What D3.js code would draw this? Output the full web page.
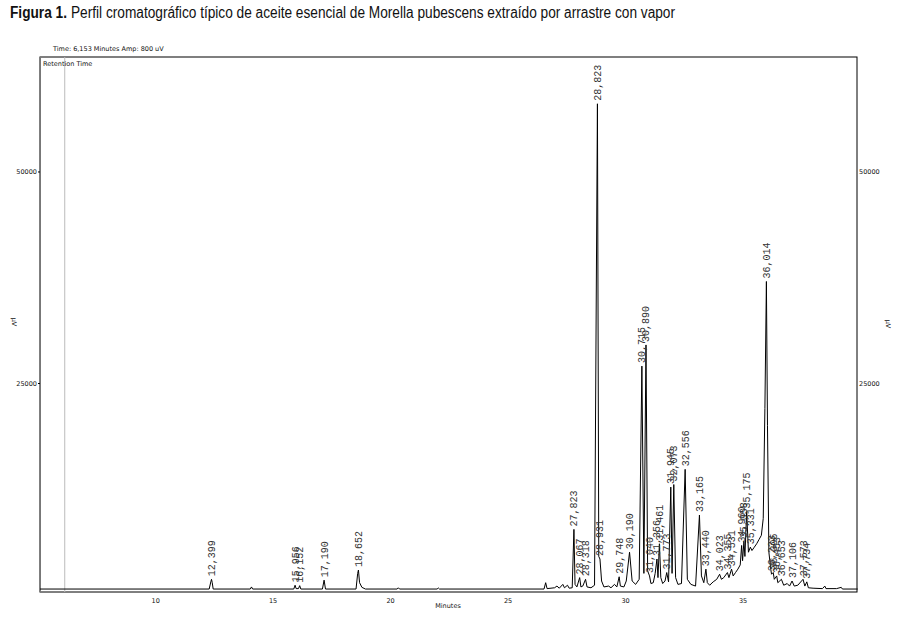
<!DOCTYPE html>
<html>
<head>
<meta charset="utf-8">
<script src="https://cdn.jsdelivr.net/npm/d3@7"></script>
<style>
  body { margin: 0; background: #fff; }
  svg { display: block; }
  .small { font-family: "DejaVu Sans", sans-serif; font-size: 6.5px; fill: #111; }
  .peak { font-family: "Liberation Mono", "DejaVu Sans Mono", monospace; font-size: 10px; fill: #333; }
  .title { font-family: "Liberation Sans Narrow", "Arial Narrow", "Liberation Sans", sans-serif; font-size: 16px; fill: #111; }
</style>
</head>
<body>
<div id="chart"></div>
<script>
// Chromatogram trace: [minutes, µV]
const trace = [
  [5.1, 650], [12.30, 650], [12.37, 1500], [12.399, 1800], [12.43, 1400], [12.47, 650],
  [14.05, 650], [14.1, 900], [14.15, 650],
  [15.90, 650], [15.956, 1100], [16.0, 700], [16.1, 700], [16.152, 1050], [16.2, 650],
  [17.12, 650], [17.19, 1700], [17.25, 650],
  [18.55, 650], [18.62, 2500], [18.652, 2900], [18.70, 1400], [18.80, 850], [18.95, 650],
  [20.3, 650], [20.35, 800], [20.4, 650],
  [22.0, 650], [22.05, 780], [22.1, 650],
  [26.55, 650], [26.62, 1400], [26.68, 700], [27.0, 800], [27.1, 1000], [27.2, 750],
  [27.35, 1200], [27.42, 800], [27.55, 1100], [27.62, 750], [27.75, 800], [27.823, 7700],
  [27.87, 1200], [27.95, 900], [28.067, 2000], [28.12, 900], [28.2, 1000], [28.318, 1800],
  [28.38, 900], [28.55, 800], [28.7, 1100], [28.823, 58000], [28.88, 4500], [28.931, 4200],
  [29.0, 1600], [29.1, 900], [29.3, 1000], [29.4, 800], [29.55, 1200], [29.65, 900],
  [29.748, 2100], [29.8, 1000], [29.95, 900], [30.05, 1600], [30.190, 5000], [30.3, 1600],
  [30.45, 1200], [30.6, 1800], [30.715, 27000], [30.8, 2500], [30.890, 29500], [30.96, 2800],
  [31.040, 2200], [31.1, 1300], [31.2, 1400], [31.28, 2500], [31.356, 4200], [31.4, 2000],
  [31.461, 6000], [31.52, 2000], [31.6, 1300], [31.7, 1600], [31.773, 2600], [31.85, 1500],
  [31.945, 12700], [32.0, 2500], [32.073, 13000], [32.15, 2000], [32.25, 1200], [32.4, 1300],
  [32.556, 14800], [32.65, 1800], [32.8, 1200], [33.0, 1000], [33.165, 9400], [33.25, 2200],
  [33.35, 1400], [33.440, 3000], [33.5, 1400], [33.6, 1100], [33.75, 1500], [33.9, 1800],
  [34.023, 2400], [34.1, 1800], [34.2, 2000], [34.355, 2600], [34.42, 2000], [34.531, 3000],
  [34.6, 2200], [34.7, 2600], [34.8, 3000], [34.9, 3500], [34.960, 5800], [35.0, 4000],
  [35.058, 6300], [35.1, 4500], [35.175, 9800], [35.25, 5000], [35.331, 5600], [35.4, 5200],
  [35.5, 5600], [35.6, 6000], [35.7, 6500], [35.8, 7000], [35.88, 9000], [35.95, 22000],
  [36.014, 37000], [36.06, 20000], [36.12, 5000], [36.2, 3000], [36.233, 2400], [36.305, 2600],
  [36.35, 1800], [36.453, 2200], [36.5, 1400], [36.653, 1800], [36.75, 1100], [36.9, 1300],
  [37.0, 1000], [37.106, 1600], [37.2, 1000], [37.35, 1100], [37.573, 1800], [37.65, 1000],
  [37.734, 1500], [37.8, 800], [38.0, 750], [38.4, 700], [38.5, 1000], [38.55, 700],
  [39.0, 700], [39.2, 850], [39.25, 650], [39.9, 650]
];

// Labelled peaks: retention time and apex height
const peakTimes = [12.399, 15.956, 16.152, 17.190, 18.652, 27.823, 28.067, 28.318, 28.823, 28.931,
  29.748, 30.190, 30.715, 30.890, 31.040, 31.356, 31.461, 31.773, 31.945, 32.073, 32.556,
  33.165, 33.440, 34.023, 34.355, 34.531, 34.960, 35.058, 35.175, 35.331, 36.014, 36.233,
  36.305, 36.453, 36.653, 37.106, 37.573, 37.734];
const peakHeights = [1800, 1100, 1050, 1700, 2900, 7700, 2000, 1800, 58000, 4200,
  2100, 5000, 27000, 29500, 2200, 4200, 6000, 2600, 12700, 13000, 14800,
  9400, 3000, 2400, 2600, 3000, 5800, 6300, 9800, 5600, 37000, 2400,
  2600, 2200, 1800, 1600, 1800, 1500];

const xTicks = [10, 15, 20, 25, 30, 35];
const yTicks = [25000, 50000];

const W = 897, H = 620;
const frame = { left: 40, right: 857, top: 57, bottom: 592 };

const svg = d3.select('#chart').append('svg')
  .attr('width', W)
  .attr('height', H);

// title, squeezed to the narrow width of the original
svg.append('text')
  .attr('class', 'title')
  .attr('x', 10).attr('y', 18)
  .attr('textLength', 57)
  .attr('lengthAdjust', 'spacingAndGlyphs')
  .style('font-weight', 'bold')
  .text('Figura 1.');
svg.append('text')
  .attr('class', 'title')
  .attr('x', 71).attr('y', 18)
  .attr('textLength', 604)
  .attr('lengthAdjust', 'spacingAndGlyphs')
  .text('Perfil cromatográfico típico de aceite esencial de Morella pubescens extraído por arrastre con vapor');

const x = d3.scaleLinear().domain([5.1, 39.87]).range([frame.left, frame.right]);
const y = d3.scaleLinear().domain([300, 63530]).range([frame.bottom, frame.top]);

// header texts
svg.append('text').attr('class', 'small').attr('x', 53).attr('y', 51)
  .text('Time:   6,153 Minutes   Amp:        800 uV');

// frame
svg.append('rect')
  .attr('x', frame.left).attr('y', frame.top)
  .attr('width', frame.right - frame.left).attr('height', frame.bottom - frame.top)
  .attr('fill', 'none').attr('stroke', '#000').attr('stroke-width', 1);
svg.append('line')
  .attr('x1', frame.left + 0.5).attr('x2', frame.left + 0.5)
  .attr('y1', frame.top).attr('y2', frame.bottom)
  .attr('stroke', '#777');

// cursor line at 6.153 min
svg.append('line')
  .attr('x1', x(6.153)).attr('x2', x(6.153)).attr('y1', frame.top).attr('y2', frame.bottom)
  .attr('stroke', '#bbb');

svg.append('text').attr('class', 'small').attr('x', 43).attr('y', 66).text('Retention Time');

// axes
const xAxis = svg.append('g')
  .attr('transform', `translate(0, ${frame.bottom})`)
  .call(d3.axisBottom(x).tickValues(xTicks).tickSize(0).tickPadding(6));
xAxis.select('.domain').remove();
xAxis.selectAll('text').attr('class', 'small');

svg.append('text').attr('class', 'small')
  .attr('x', 448).attr('y', 608).attr('text-anchor', 'middle').text('Minutes');

const yLeft = svg.append('g')
  .attr('transform', `translate(${frame.left}, 0)`)
  .call(d3.axisLeft(y).tickValues(yTicks).tickSize(2).tickPadding(1).tickFormat(d3.format('d')));
yLeft.select('.domain').remove();
yLeft.selectAll('text').attr('class', 'small');

const yRight = svg.append('g')
  .attr('transform', `translate(${frame.right}, 0)`)
  .call(d3.axisRight(y).tickValues(yTicks).tickSize(0).tickPadding(2).tickFormat(d3.format('d')));
yRight.select('.domain').remove();
yRight.selectAll('text').attr('class', 'small');

svg.append('text').attr('class', 'small')
  .attr('transform', 'translate(12, 322) rotate(90)').attr('text-anchor', 'middle').text('µV');
svg.append('text').attr('class', 'small')
  .attr('transform', 'translate(886, 324) rotate(90)').attr('text-anchor', 'middle').text('µV');

// trace
const line = d3.line().x(d => x(d[0])).y(d => y(d[1]));
svg.append('path')
  .datum(trace)
  .attr('d', line)
  .attr('fill', 'none')
  .attr('stroke', '#000')
  .attr('stroke-width', 1);

// peak labels
const fmt = t => t.toFixed(3).replace('.', ',');
svg.append('g')
  .selectAll('text')
  .data(peakTimes)
  .enter()
  .append('text')
  .attr('class', 'peak')
  .attr('transform', (t, i) => `translate(${x(t)}, ${y(peakHeights[i]) - 3}) rotate(-90)`)
  .attr('dy', '0.35em')
  .text(fmt);
</script>
</body>
</html>
